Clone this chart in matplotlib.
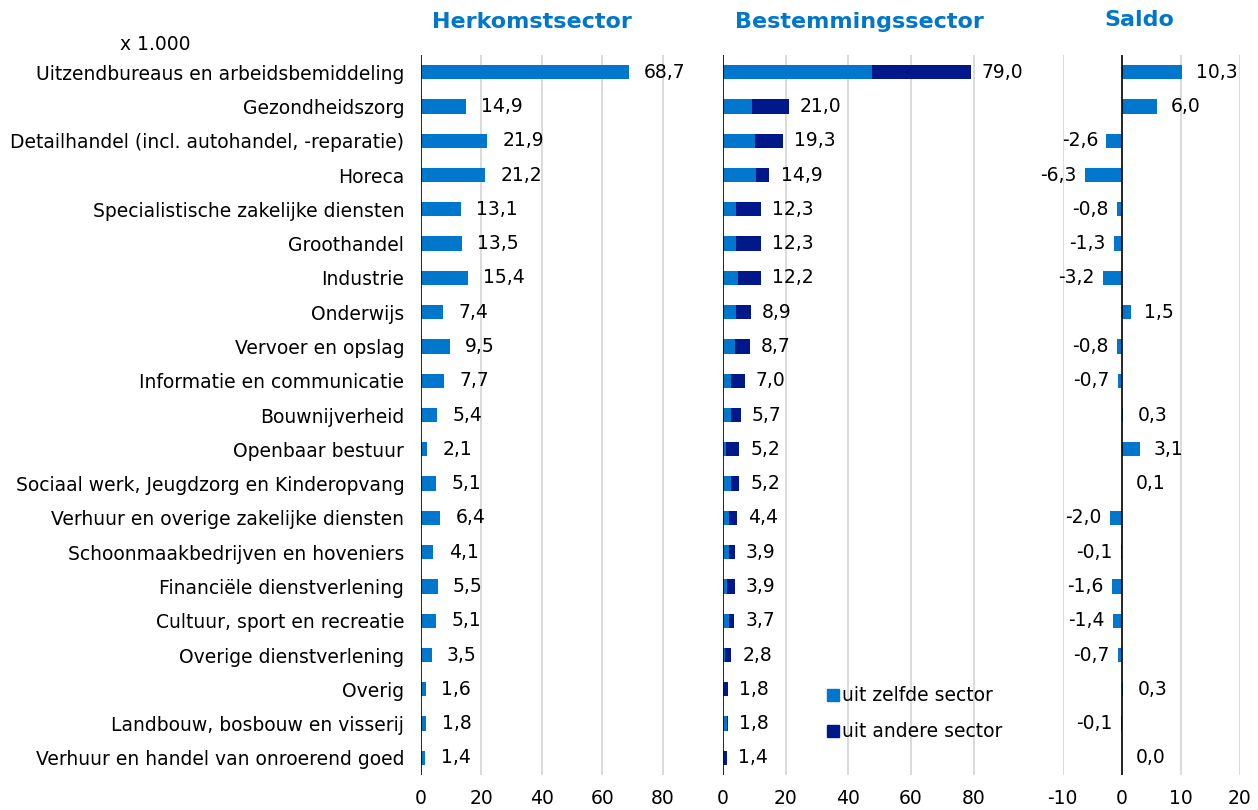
import numpy as np
import matplotlib
matplotlib.use('Agg')
import matplotlib.pyplot as plt
from matplotlib.patches import Patch

plt.rcParams['font.family'] = ['DejaVu Sans']

# --- Data (x 1.000) ---
categories = [
    "Uitzendbureaus en arbeidsbemiddeling",
    "Gezondheidszorg",
    "Detailhandel (incl. autohandel, -reparatie)",
    "Horeca",
    "Specialistische zakelijke diensten",
    "Groothandel",
    "Industrie",
    "Onderwijs",
    "Vervoer en opslag",
    "Informatie en communicatie",
    "Bouwnijverheid",
    "Openbaar bestuur",
    "Sociaal werk, Jeugdzorg en Kinderopvang",
    "Verhuur en overige zakelijke diensten",
    "Schoonmaakbedrijven en hoveniers",
    "Financiële dienstverlening",
    "Cultuur, sport en recreatie",
    "Overige dienstverlening",
    "Overig",
    "Landbouw, bosbouw en visserij",
    "Verhuur en handel van onroerend goed",
]
herkomst = [68.7, 14.9, 21.9, 21.2, 13.1, 13.5, 15.4, 7.4, 9.5, 7.7, 5.4,
            2.1, 5.1, 6.4, 4.1, 5.5, 5.1, 3.5, 1.6, 1.8, 1.4]
bestemming = [79.0, 21.0, 19.3, 14.9, 12.3, 12.3, 12.2, 8.9, 8.7, 7.0, 5.7,
              5.2, 5.2, 4.4, 3.9, 3.9, 3.7, 2.8, 1.8, 1.8, 1.4]
zelfde_sector = [47.4, 9.4, 10.2, 10.5, 4.1, 4.1, 4.9, 4.2, 3.9, 2.5, 2.6,
                 0.9, 2.6, 2.0, 2.0, 1.3, 2.0, 0.8, 0.3, 1.5, 0.3]
saldo = [10.3, 6.0, -2.6, -6.3, -0.8, -1.3, -3.2, 1.5, -0.8, -0.7, 0.3,
         3.1, 0.1, -2.0, -0.1, -1.6, -1.4, -0.7, 0.3, -0.1, 0.0]

andere_sector = [b - z for b, z in zip(bestemming, zelfde_sector)]

LIGHT = '#0077cc'
DARK = '#00188a'
GRID = '#d4d4d4'
FS = 13.5

fig = plt.figure(figsize=(12.58, 8.10), dpi=100)
bottom, height = 0.0432, 0.8889
ax1 = fig.add_axes([421 / 1258, bottom, 272 / 1258, height])
ax2 = fig.add_axes([722.7 / 1258, bottom, 282.6 / 1258, height])
ax3 = fig.add_axes([1062.7 / 1258, bottom, 177 / 1258, height])

y = np.arange(len(categories))
bh = 0.42


def fmt(v):
    return f"{v:.1f}".replace('.', ',')


def style(ax, xlim, ticks):
    ax.set_xlim(*xlim)
    ax.set_ylim(len(categories) - 0.5, -0.5)
    ax.set_xticks(ticks)
    ax.set_xticklabels([str(t) for t in ticks], fontsize=FS)
    ax.tick_params(axis='x', length=0, pad=10)
    ax.set_yticks([])
    for s in ax.spines.values():
        s.set_visible(False)
    for t in ticks:
        if t != 0:
            ax.axvline(t, color=GRID, lw=1.2, zorder=0)
    ax.axvline(0, color='black', lw=1.2, zorder=3)


# --- Herkomstsector ---
ax1.barh(y, herkomst, height=bh, color=LIGHT, zorder=2)
style(ax1, (0, 90), [0, 20, 40, 60, 80])
ax1.set_yticks(y)
ax1.set_yticklabels(categories, fontsize=FS)
ax1.tick_params(axis='y', length=0, pad=12)
for yi, v in zip(y, herkomst):
    ax1.annotate(fmt(v), (v, yi), xytext=(11, 0), textcoords='offset points',
                 va='center', ha='left', fontsize=FS)

# --- Bestemmingssector ---
ax2.barh(y, zelfde_sector, height=bh, color=LIGHT, zorder=2)
ax2.barh(y, andere_sector, left=zelfde_sector, height=bh, color=DARK, zorder=2)
style(ax2, (0, 90), [0, 20, 40, 60, 80])
for yi, v in zip(y, bestemming):
    ax2.annotate(fmt(v), (v, yi), xytext=(8, 0), textcoords='offset points',
                 va='center', ha='left', fontsize=FS)
handles = [Patch(color=LIGHT), Patch(color=DARK)]
ax2.legend(handles, ['uit zelfde sector', 'uit andere sector'], loc='upper left',
           bbox_to_anchor=(0.37, 0.123), frameon=False, fontsize=FS,
           handlelength=0.6, handleheight=0.6, handletextpad=0.2,
           labelspacing=0.9, borderpad=0, borderaxespad=0)

# --- Saldo ---
ax3.barh(y, saldo, height=bh, color=LIGHT, zorder=2)
style(ax3, (-10, 20), [-10, 0, 10, 20])
for yi, v in zip(y, saldo):
    if v < 0:
        ax3.annotate(fmt(v), (v, yi), xytext=(-6, 0), textcoords='offset points',
                     va='center', ha='right', fontsize=FS)
    else:
        ax3.annotate(fmt(v), (v, yi), xytext=(10, 0), textcoords='offset points',
                     va='center', ha='left', fontsize=FS)

# --- Titles ---
title_kw = dict(fontsize=16, fontweight='bold', color=LIGHT, ha='center', va='center')
fig.text(532 / 1258, 1 - 22 / 810, 'Herkomstsector', **title_kw)
fig.text(859 / 1258, 1 - 22 / 810, 'Bestemmingssector', **title_kw)
fig.text(1139 / 1258, 1 - 20 / 810, 'Saldo', **title_kw)
fig.text(120 / 1258, 1 - 44 / 810, 'x 1.000', fontsize=FS, ha='left', va='center')

fig.savefig('out.png', dpi=100)
